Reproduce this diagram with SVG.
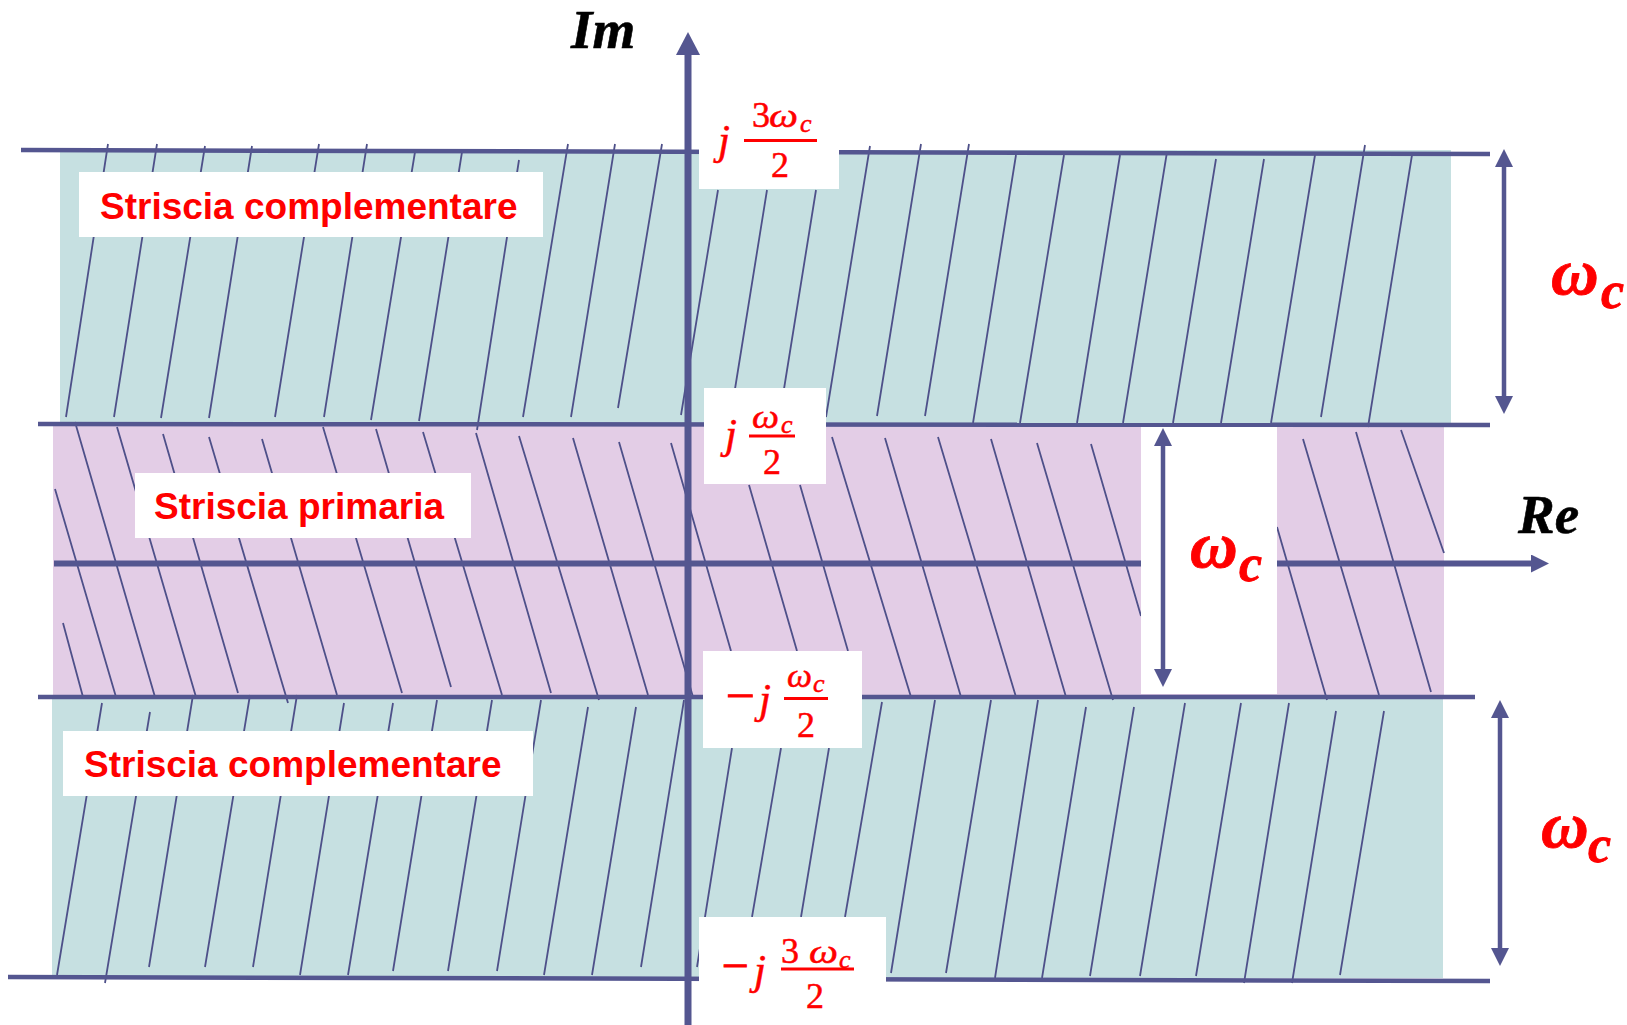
<svg xmlns="http://www.w3.org/2000/svg" width="1627" height="1025" viewBox="0 0 1627 1025">
<defs>
<style>
.hatch{stroke:#4E5089;stroke-width:1.8;fill:none}
.ln{stroke:#545690;fill:none;stroke-width:4.5}
.box{fill:#FFFFFF}
.str{font-family:"Liberation Sans",Arial,sans-serif;font-weight:bold;font-size:37px;fill:#FF0000}
.m{font-family:"Liberation Serif","Times New Roman",serif;font-size:36px;fill:#FF0000;stroke:#FF0000;stroke-width:0.5}
.i{font-style:italic}
.j{font-size:43px}
.om{font-size:33px}
.sub{font-size:26px}
.mn{font-size:46px;stroke-width:1}
.bar{stroke:#FF0000;stroke-width:2.8}
.big{font-family:"Liberation Serif","Times New Roman",serif;font-weight:bold;font-style:italic;fill:#FF0000;stroke:#FF0000;stroke-width:0.8}
.w{font-size:66px}
.c{font-size:52px}
.axl{font-family:"Liberation Serif","Times New Roman",serif;font-weight:bold;font-style:italic;font-size:55px;fill:#000000;stroke:#000000;stroke-width:0.6}
</style>
<marker id="ah" markerUnits="userSpaceOnUse" markerWidth="18" markerHeight="18" refX="4" refY="9" orient="auto-start-reverse" viewBox="0 0 18 18"><path d="M0,0 L18,9 L0,18 Z" fill="#545690"/></marker>
<marker id="ahL" markerUnits="userSpaceOnUse" markerWidth="23" markerHeight="24" refX="4" refY="12" orient="auto" viewBox="0 0 23 24"><path d="M0,0 L23,12 L0,24 Z" fill="#545690"/></marker>
</defs>

<g id="bands">
<rect x="60" y="150" width="1391" height="274" fill="#C6E0E1"/>
<rect x="53" y="425" width="1391" height="272" fill="#E3CDE6"/>
<rect x="52" y="698" width="1391" height="280" fill="#C6E0E1"/>
</g>

<g id="hatching" class="hatch">
<path d="M108,144L66,417M157,144L114,417M205,146L161,418M252,146L209,418M319,144L275,417M367,144L324,417M415,152L371,420M462,152L419,421M519,160L477,430M568,144L523,417M615,144L571,417M662,144L618,408M718,190L681,415M767,190L730,420M816,190L779,420M870,146L826,417M921,144L877,416M969,144L925,416M1016,155L973,423M1064,155L1020,423M1120,155L1077,423M1167,152L1123,423M1216,159L1173,423M1264,159L1221,423M1315,155L1271,423M1365,145L1321,417M1412,155L1368,427"/>
<path d="M55,489L116,697M63,623L83,697M75,422L155,697M117,427L196,697M163,434L238,693M209,437L288,703M262,439L337,695M323,427L402,693M376,429L451,687M423,432L502,695M476,433L551,693M519,436L599,700M573,438L648,695M619,442L693,697M671,443L731,651M749,485L797,651M800,485L848,651M832,437L911,697M885,438L961,697M938,437L1016,697M991,439L1066,697M1037,443L1113,700M1091,444L1141,616M1277,527L1327,700M1303,439L1379,695M1356,432L1431,692M1401,430L1444,553"/>
<path d="M102,703L57,975M150,712L105,983M193,695L149,967M250,695L205,967M297,695L253,967M344,703L300,975M393,703L348,975M437,700L393,971M492,700L448,971M541,700L497,971M588,707L544,975M636,707L592,975M684,700L641,967M732,748L697,967M781,748L752,917M829,748L801,917M882,702L845,917M935,700L891,973M991,700L946,973M1038,700L995,978M1086,707L1042,978M1134,707L1090,976M1185,703L1140,976M1241,703L1196,976M1289,703L1244,983M1336,711L1292,983M1384,711L1340,975"/>
</g>

<g id="grid-lines">
<path class="ln" d="M21,150L1490,154"/>
<path class="ln" d="M38,424L1490,425"/>
<path class="ln" d="M38,697L1475,697"/>
<path class="ln" d="M8,977L1490,981"/>
<path id="re-axis" class="ln" style="stroke-width:6" d="M54,563.5L1535,563.5" marker-end="url(#ah)"/>
<path id="im-axis" class="ln" style="stroke-width:7" d="M688,1025L688,51" marker-end="url(#ahL)"/>
</g>

<g id="label-im"><text class="axl" x="571" y="48">Im</text></g>
<g id="label-re"><text class="axl" x="1518" y="533">Re</text></g>

<g id="strip-top">
<rect class="box" x="79" y="172" width="464" height="65"/>
<text class="str" x="100" y="219">Striscia complementare</text>
</g>
<g id="strip-primary">
<rect class="box" x="135" y="473" width="336" height="65"/>
<text class="str" x="154" y="519">Striscia primaria</text>
</g>
<g id="strip-bottom">
<rect class="box" x="63" y="731" width="470" height="65"/>
<text class="str" x="84" y="777">Striscia complementare</text>
</g>

<g id="tick-3wc2">
<rect class="box" x="699" y="100" width="140" height="89"/>
<text class="m i j" x="718" y="154">j</text>
<text class="m" x="752" y="127">3</text>
<text class="m i om" x="769" y="127" textLength="29" lengthAdjust="spacingAndGlyphs">ω</text>
<text class="m i sub" x="800" y="132">c</text>
<line class="bar" x1="744" y1="140.5" x2="817" y2="140.5"/>
<text class="m" x="771" y="177">2</text>
</g>

<g id="tick-wc2">
<rect class="box" x="704" y="388" width="122" height="96"/>
<text class="m i j" x="725" y="448">j</text>
<text class="m i om" x="752" y="428" textLength="27" lengthAdjust="spacingAndGlyphs">ω</text>
<text class="m i sub" x="781" y="433">c</text>
<line class="bar" x1="749" y1="436" x2="795" y2="436"/>
<text class="m" x="763" y="474">2</text>
</g>

<g id="tick-mwc2">
<rect class="box" x="703" y="651" width="159" height="97"/>
<text class="m mn" x="726" y="711" textLength="29" lengthAdjust="spacingAndGlyphs">−</text>
<text class="m i j" x="759" y="713">j</text>
<text class="m i om" x="787" y="687" textLength="25" lengthAdjust="spacingAndGlyphs">ω</text>
<text class="m i sub" x="813" y="692">c</text>
<line class="bar" x1="784" y1="698.5" x2="828" y2="698.5"/>
<text class="m" x="797" y="737">2</text>
</g>

<g id="tick-m3wc2">
<rect class="box" x="699" y="917" width="187" height="108"/>
<text class="m mn" x="722" y="981" textLength="27" lengthAdjust="spacingAndGlyphs">−</text>
<text class="m i j" x="754" y="984">j</text>
<text class="m" x="781" y="963">3</text>
<text class="m i om" x="809" y="963" textLength="29" lengthAdjust="spacingAndGlyphs">ω</text>
<text class="m i sub" x="839" y="968">c</text>
<line class="bar" x1="781" y1="969" x2="854" y2="969"/>
<text class="m" x="806" y="1008">2</text>
</g>

<g id="width-middle">
<rect class="box" x="1141" y="427" width="136" height="267"/>
<text class="big w" x="1190" y="567">ω</text>
<text class="big c" x="1239" y="581">c</text>
</g>

<g id="width-top">
<text class="big w" x="1551" y="294">ω</text>
<text class="big c" x="1601" y="308">c</text>
</g>

<g id="width-bottom">
<text class="big w" x="1541" y="847">ω</text>
<text class="big c" x="1588" y="862">c</text>
</g>

<g id="connectors">
<path class="ln" d="M1504,163L1504,400" marker-start="url(#ah)" marker-end="url(#ah)"/>
<path class="ln" d="M1163,442L1163,673" marker-start="url(#ah)" marker-end="url(#ah)"/>
<path class="ln" d="M1500,714L1500,952" marker-start="url(#ah)" marker-end="url(#ah)"/>
</g>
</svg>
